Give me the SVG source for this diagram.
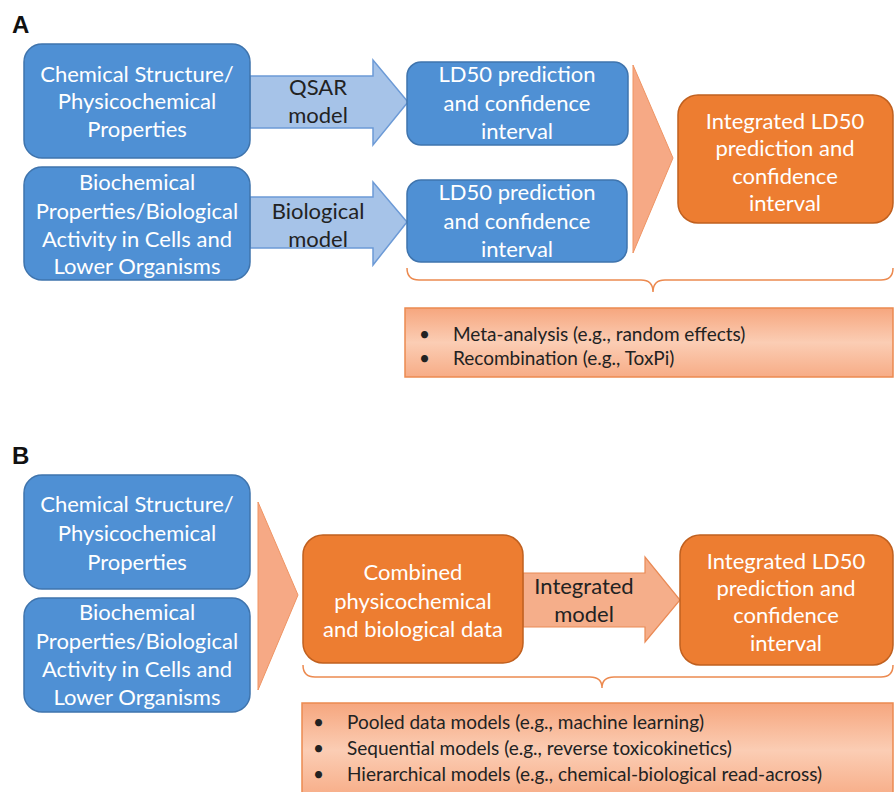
<svg xmlns="http://www.w3.org/2000/svg" width="894" height="792" viewBox="0 0 894 792">
<defs>
<linearGradient id="lg" x1="0" y1="0" x2="0" y2="1">
<stop offset="0" stop-color="#f6a67e"/>
<stop offset="0.5" stop-color="#fbcdb4"/>
<stop offset="1" stop-color="#f7ac86"/>
</linearGradient>
<style>
.blue{fill:#4f90d4;stroke:#3f74ad;stroke-width:1.5}
.org{fill:#ed7d31;stroke:#c0601f;stroke-width:1.5}
.larr{fill:#a6c3e8;stroke:#6c9ad6;stroke-width:1.5}
.oarr{fill:#f5ae8a;stroke:#ea8a55;stroke-width:1.2}
.chev{fill:#f6a985;stroke:#ef9463;stroke-width:1}
.list{fill:url(#lg);stroke:#ec8a50;stroke-width:1.5}
.brace{fill:none;stroke:#ec8a50;stroke-width:1.5}
text{font-family:Lato,"Liberation Sans",sans-serif;text-anchor:middle}
.w{fill:#ffffff;font-size:22px}
.d{fill:#222222;font-size:22px}
.b{fill:#222222;font-size:19px;text-anchor:start}
.lbl{fill:#111111;font-size:24px;font-weight:bold;text-anchor:start;font-family:"Liberation Sans",sans-serif}
</style>
</defs>
<text class="lbl" x="12" y="33">A</text>
<text class="lbl" x="12" y="464">B</text>
<g id="connectors">
<path class="larr" d="M250,76 L373,76 L373,60 L408,102 L373,145 L373,128 L250,128 Z"/>
<path class="larr" d="M250,197 L373,197 L373,182 L407,222 L373,265 L373,248 L250,248 Z"/>
<path class="chev" d="M633,65 L673,158 L633,253 Z"/>
<path class="chev" d="M258,502 L298,595 L258,690 Z"/>
<path class="oarr" d="M523,573 L645,573 L645,557 L680,600 L645,642 L645,627 L523,627 Z"/>
<path class="brace" d="M407,268 Q407,280 419,280 L641,280 Q653,280 653,292 Q653,280 665,280 L881,280 Q893,280 893,268"/>
<path class="brace" d="M303,665 Q303,677 315,677 L590,677 Q602,677 602,688 Q602,677 614,677 L881,677 Q893,677 893,665"/>
<text class="d" x="318" y="95">QSAR</text>
<text class="d" x="318" y="123">model</text>
<text class="d" x="318" y="219">Biological</text>
<text class="d" x="318" y="247">model</text>
<text class="d" x="584" y="594">Integrated</text>
<text class="d" x="584" y="622">model</text>
</g>
<g id="a-chem">
<rect class="blue" x="24" y="44" width="226" height="114" rx="18"/>
<text class="w" x="137" y="82">Chemical Structure/</text>
<text class="w" x="137" y="109">Physicochemical</text>
<text class="w" x="137" y="137">Properties</text>
</g>
<g id="a-bio">
<rect class="blue" x="24" y="167" width="226" height="113" rx="18"/>
<text class="w" x="137" y="190">Biochemical</text>
<text class="w" x="137" y="219">Properties/Biological</text>
<text class="w" x="137" y="247">Activity in Cells and</text>
<text class="w" x="137" y="274">Lower Organisms</text>
</g>
<g id="a-ld50-1">
<rect class="blue" x="407" y="62" width="221" height="83" rx="14"/>
<text class="w" x="517" y="82">LD50 prediction</text>
<text class="w" x="517" y="111">and confidence</text>
<text class="w" x="517" y="139">interval</text>
</g>
<g id="a-ld50-2">
<rect class="blue" x="407" y="180" width="220" height="82" rx="14"/>
<text class="w" x="517" y="200">LD50 prediction</text>
<text class="w" x="517" y="229">and confidence</text>
<text class="w" x="517" y="257">interval</text>
</g>
<g id="a-integrated">
<rect class="org" x="678" y="95" width="215" height="128" rx="20"/>
<text class="w" x="785" y="129">Integrated LD50</text>
<text class="w" x="785" y="156">prediction and</text>
<text class="w" x="785" y="184">confidence</text>
<text class="w" x="785" y="211">interval</text>
</g>
<g id="a-methods">
<rect class="list" x="405" y="308" width="488" height="69"/>
<text class="b" x="419" y="341">•</text>
<text class="b" x="453" y="341">Meta-analysis (e.g., random effects)</text>
<text class="b" x="419" y="365">•</text>
<text class="b" x="453" y="365">Recombination (e.g., ToxPi)</text>
</g>
<g id="b-chem">
<rect class="blue" x="24" y="475" width="226" height="114" rx="18"/>
<text class="w" x="137" y="512">Chemical Structure/</text>
<text class="w" x="137" y="541">Physicochemical</text>
<text class="w" x="137" y="570">Properties</text>
</g>
<g id="b-bio">
<rect class="blue" x="24" y="598" width="226" height="114" rx="18"/>
<text class="w" x="137" y="620">Biochemical</text>
<text class="w" x="137" y="649">Properties/Biological</text>
<text class="w" x="137" y="677">Activity in Cells and</text>
<text class="w" x="137" y="705">Lower Organisms</text>
</g>
<g id="b-combined">
<rect class="org" x="303" y="535" width="220" height="128" rx="20"/>
<text class="w" x="413" y="580">Combined</text>
<text class="w" x="413" y="609">physicochemical</text>
<text class="w" x="413" y="637">and biological data</text>
</g>
<g id="b-integrated">
<rect class="org" x="680" y="535" width="213" height="130" rx="20"/>
<text class="w" x="786" y="569">Integrated LD50</text>
<text class="w" x="786" y="596">prediction and</text>
<text class="w" x="786" y="623">confidence</text>
<text class="w" x="786" y="651">interval</text>
</g>
<g id="b-methods">
<rect class="list" x="302" y="703" width="591" height="95"/>
<text class="b" x="313" y="729">•</text>
<text class="b" x="347" y="729">Pooled data models (e.g., machine learning)</text>
<text class="b" x="313" y="755">•</text>
<text class="b" x="347" y="755">Sequential models (e.g., reverse toxicokinetics)</text>
<text class="b" x="313" y="781">•</text>
<text class="b" x="347" y="781">Hierarchical models (e.g., chemical-biological read-across)</text>
</g>
</svg>
